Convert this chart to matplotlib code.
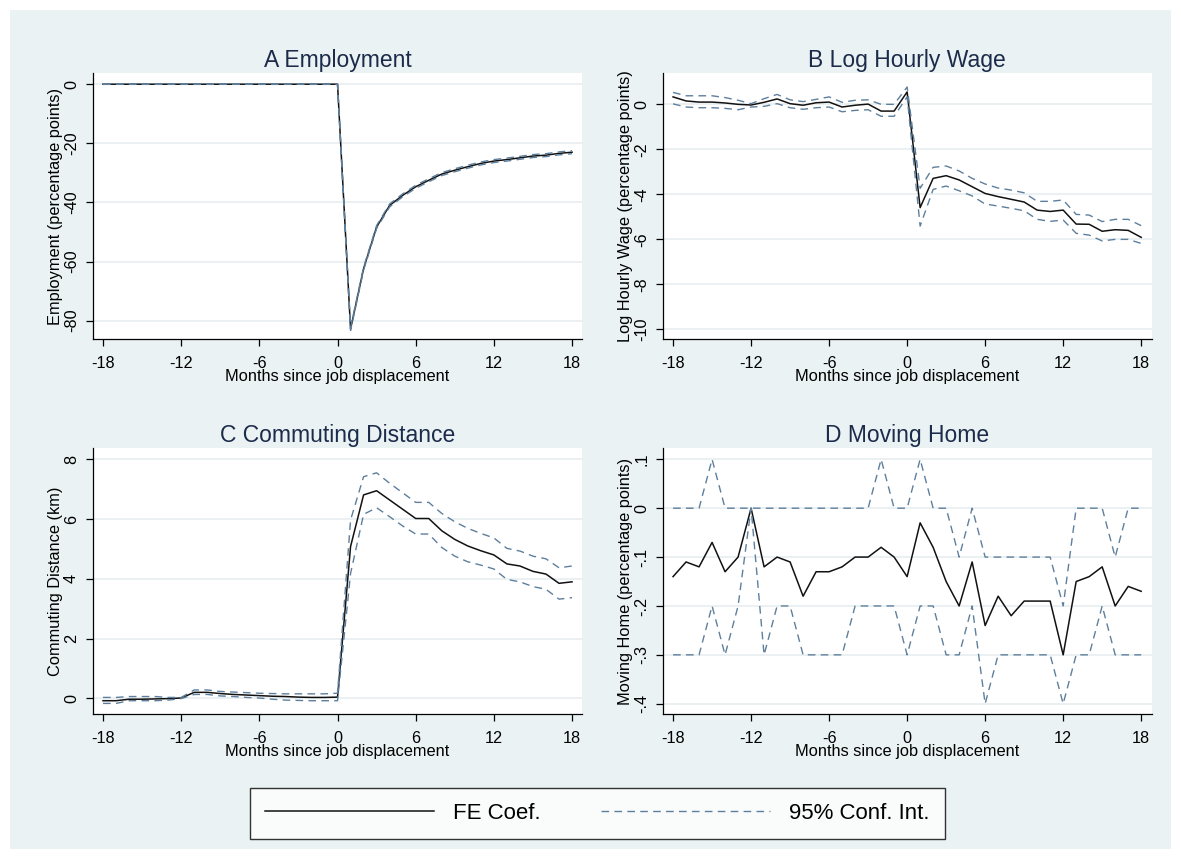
import numpy as np
import matplotlib
matplotlib.use("Agg")
import matplotlib.pyplot as plt
from matplotlib.patches import Rectangle

plt.rcParams['font.family'] = ['Liberation Sans', 'DejaVu Sans']

months = np.arange(-18, 19)
xticks = [-18, -12, -6, 0, 6, 12, 18]

emp_coef = [0, 0, 0, 0, 0, 0, 0, 0, 0, 0, 0, 0, 0, 0, 0, 0, 0, 0, 0,
            -82.8, -62.4, -48.3, -41.0, -37.6, -34.7, -32.5, -30.4, -29.1, -27.9,
            -26.8, -26.0, -25.5, -24.9, -24.3, -24.0, -23.4, -23.0]
emp_hi = [0.05, 0.05, 0.05, 0.05, 0.05, 0.05, 0.05, 0.05, 0.05, 0.05, 0.05, 0.05,
          0.05, 0.05, 0.05, 0.05, 0.05, 0.05, 0.05,
          -82.3, -61.9, -47.8, -40.5, -37.1, -34.2, -32.0, -29.9, -28.6, -27.4,
          -26.3, -25.5, -25.0, -24.4, -23.8, -23.5, -22.9, -22.5]
emp_lo = [-0.05, -0.05, -0.05, -0.05, -0.05, -0.05, -0.05, -0.05, -0.05, -0.05,
          -0.05, -0.05, -0.05, -0.05, -0.05, -0.05, -0.05, -0.05, -0.05,
          -83.3, -62.9, -48.8, -41.5, -38.1, -35.2, -33.0, -30.9, -29.6, -28.4,
          -27.3, -26.5, -26.0, -25.4, -24.8, -24.5, -23.9, -23.5]

wage_coef = [0.33, 0.15, 0.10, 0.10, 0.06, 0.0, -0.03, 0.09, 0.24, 0.03, -0.04, 0.07,
             0.10, -0.12, -0.04, 0.01, -0.30, -0.30, 0.55,
             -4.59, -3.29, -3.17, -3.36, -3.66, -3.96, -4.10, -4.22, -4.34, -4.70,
             -4.76, -4.70, -5.32, -5.33, -5.64, -5.57, -5.60, -5.91]
wage_hi = [0.53, 0.38, 0.38, 0.38, 0.30, 0.18, 0.03, 0.25, 0.44, 0.20, 0.12, 0.22,
           0.33, 0.09, 0.18, 0.20, 0.0, 0.0, 0.77,
           -3.73, -2.80, -2.74, -2.96, -3.29, -3.54, -3.72, -3.81, -3.93, -4.31,
           -4.31, -4.25, -4.89, -4.92, -5.21, -5.11, -5.11, -5.39]
wage_lo = [0.02, -0.12, -0.15, -0.15, -0.18, -0.24, -0.12, -0.09, 0.03, -0.15, -0.22,
           -0.15, -0.12, -0.33, -0.27, -0.24, -0.53, -0.53, 0.33,
           -5.41, -3.78, -3.63, -3.84, -4.07, -4.43, -4.52, -4.62, -4.73, -5.11,
           -5.20, -5.14, -5.73, -5.81, -6.07, -6.00, -6.00, -6.18]

comm_coef = [-0.08, -0.08, -0.03, -0.03, -0.02, -0.01, 0.01, 0.20, 0.20, 0.16, 0.13,
             0.11, 0.09, 0.07, 0.06, 0.04, 0.03, 0.03, 0.04,
             5.08, 6.81, 6.95, 6.64, 6.33, 6.02, 6.02, 5.61, 5.32, 5.10,
             4.94, 4.80, 4.50, 4.43, 4.25, 4.16, 3.85, 3.90]
comm_hi = [0.03, 0.03, 0.06, 0.06, 0.06, 0.03, 0.03, 0.28, 0.28, 0.23, 0.21, 0.19,
           0.17, 0.16, 0.15, 0.15, 0.15, 0.15, 0.17,
           5.97, 7.42, 7.55, 7.20, 6.88, 6.56, 6.56, 6.19, 5.91, 5.69,
           5.52, 5.37, 5.02, 4.93, 4.76, 4.67, 4.37, 4.43]
comm_lo = [-0.17, -0.17, -0.08, -0.08, -0.08, -0.06, -0.01, 0.13, 0.13, 0.08, 0.06,
           0.03, 0.01, -0.03, -0.06, -0.07, -0.08, -0.08, -0.08,
           4.18, 6.16, 6.38, 6.08, 5.77, 5.50, 5.50, 5.05, 4.76, 4.57,
           4.46, 4.33, 3.98, 3.90, 3.74, 3.65, 3.32, 3.37]

move_coef = [-0.14, -0.11, -0.12, -0.07, -0.13, -0.10, 0.0, -0.12, -0.10, -0.11, -0.18,
             -0.13, -0.13, -0.12, -0.10, -0.10, -0.08, -0.10, -0.14,
             -0.03, -0.08, -0.15, -0.20, -0.11, -0.24, -0.18, -0.22, -0.19, -0.19,
             -0.19, -0.30, -0.15, -0.14, -0.12, -0.20, -0.16, -0.17]
move_hi = [0, 0, 0, 0.1, 0, 0, 0, 0, 0, 0, 0, 0, 0, 0, 0, 0, 0.1, 0, 0,
           0.1, 0, 0, -0.1, 0, -0.1, -0.1, -0.1, -0.1, -0.1, -0.1, -0.2, 0, 0, 0,
           -0.1, 0, 0]
move_lo = [-0.3, -0.3, -0.3, -0.2, -0.3, -0.2, 0.0, -0.3, -0.2, -0.2, -0.3, -0.3, -0.3,
           -0.3, -0.2, -0.2, -0.2, -0.2, -0.3,
           -0.2, -0.2, -0.3, -0.3, -0.2, -0.4, -0.3, -0.3, -0.3, -0.3, -0.3, -0.4,
           -0.3, -0.3, -0.2, -0.3, -0.3, -0.3]

panels = [
    ("A Employment", "Employment (percentage points)", emp_coef, emp_hi, emp_lo,
     [0, -20, -40, -60, -80], ["0", "-20", "-40", "-60", "-80"], (-86.3, 3.7)),
    ("B Log Hourly Wage", "Log Hourly Wage (percentage points)", wage_coef, wage_hi, wage_lo,
     [0, -2, -4, -6, -8, -10], ["0", "-2", "-4", "-6", "-8", "-10"], (-10.44, 1.38)),
    ("C Commuting Distance", "Commuting Distance (km)", comm_coef, comm_hi, comm_lo,
     [0, 2, 4, 6, 8], ["0", "2", "4", "6", "8"], (-0.525, 8.37)),
    ("D Moving Home", "Moving Home (percentage points)", move_coef, move_hi, move_lo,
     [0.1, 0, -0.1, -0.2, -0.3, -0.4], [".1", "0", "-.1", "-.2", "-.3", "-.4"], (-0.421, 0.1225)),
]

W, H = 1181, 859
fig = plt.figure(figsize=(W / 100, H / 100), dpi=100)
fig.patch.set_facecolor('white')
fig.patches.append(Rectangle((10 / W, 10 / H), (W - 20) / W, (H - 20) / H,
                             transform=fig.transFigure, facecolor='#EAF2F3',
                             edgecolor='none', zorder=-10))

positions = [
    [0.0784, 0.605, 0.4148, 0.3097],
    [0.5611, 0.605, 0.4140, 0.3097],
    [0.0784, 0.1688, 0.4148, 0.3093],
    [0.5611, 0.1688, 0.4140, 0.3093],
]

title_color = '#1C2B4A'
ci_color = '#5E7F9C'
grid_color = '#E5EDF0'

handles = None
for pos, (title, ylabel, coef, hi, lo, yt, ytl, ylim) in zip(positions, panels):
    ax = fig.add_axes(pos)
    ax.set_facecolor('white')
    for yv in yt:
        ax.axhline(yv, color=grid_color, lw=1.1, zorder=0)
    l1, = ax.plot(months, coef, color='#111111', lw=1.1, zorder=3, label='FE Coef.')
    l2, = ax.plot(months, hi, color=ci_color, lw=1.0, dashes=(5.5, 3.8), zorder=4,
                  label='95% Conf. Int.')
    ax.plot(months, lo, color=ci_color, lw=1.0, dashes=(5.5, 3.8), zorder=4)
    handles = [l1, l2]
    ax.set_xlim(-18.8, 18.8)
    ax.set_ylim(*ylim)
    ax.set_xticks(xticks)
    ax.set_xticklabels([str(v) for v in xticks])
    ax.set_yticks(yt)
    ax.set_yticklabels(ytl)
    for s in ['top', 'right']:
        ax.spines[s].set_visible(False)
    for s in ['left', 'bottom']:
        ax.spines[s].set_linewidth(0.9)
        ax.spines[s].set_color('black')
    ax.tick_params(axis='both', direction='out', length=4.7, width=0.9,
                   labelsize=11.7, colors='black')
    ax.tick_params(axis='x', pad=7.5)
    ax.tick_params(axis='y', pad=5)
    for lab in ax.get_yticklabels():
        lab.set_rotation(90)
        lab.set_va('center')
        lab.set_ha('right')
    ax.set_title(title, fontsize=16.5, color=title_color, pad=4.5)
    ax.set_xlabel("Months since job displacement", fontsize=11.8, labelpad=-1.5)
    ax.set_ylabel(ylabel, fontsize=11.8, labelpad=1)

leg = fig.legend(handles=handles, loc='center', bbox_to_anchor=(0.5058, 0.0531),
                 ncol=2, fontsize=16, frameon=True, fancybox=False,
                 handlelength=7.6, handletextpad=0.85, columnspacing=2.75,
                 borderpad=0.68)
leg.get_frame().set_edgecolor('black')
leg.get_frame().set_linewidth(1.0)
leg.get_frame().set_facecolor('white')

fig.savefig('out.png', dpi=100, facecolor=fig.get_facecolor())
